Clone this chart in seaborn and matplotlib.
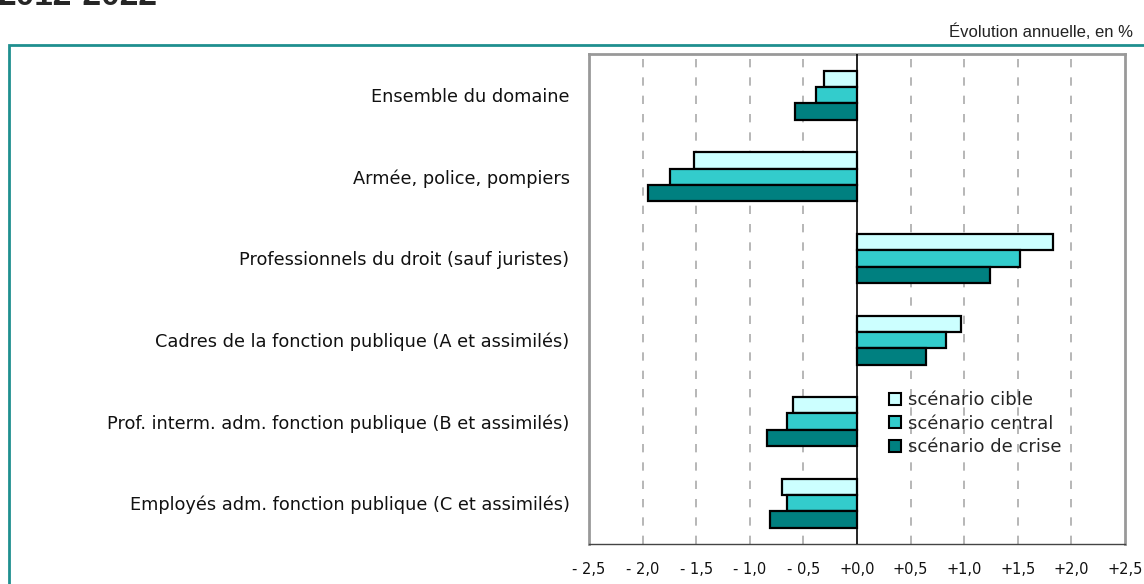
import matplotlib
matplotlib.use("Agg")
import matplotlib.pyplot as plt
import seaborn as sns
import pandas as pd
from matplotlib.patches import Rectangle

categories = ["Ensemble du domaine",
              "Armée, police, pompiers",
              "Professionnels du droit (sauf juristes)",
              "Cadres de la fonction publique (A et assimilés)",
              "Prof. interm. adm. fonction publique (B et assimilés)",
              "Employés adm. fonction publique (C et assimilés)"]
scenarios = ["scénario cible", "scénario central", "scénario de crise"]
cible = [-0.31, -1.52, 1.83, 0.97, -0.60, -0.70]
central = [-0.38, -1.74, 1.52, 0.83, -0.65, -0.65]
crise = [-0.58, -1.95, 1.24, 0.64, -0.84, -0.81]
colors = ["#CCFFFF", "#33CCCC", "#008080"]
xticks = [-2.5, -2.0, -1.5, -1.0, -0.5, 0.0, 0.5, 1.0, 1.5, 2.0, 2.5]
xticklabels = ["- 2,5", "- 2,0", "- 1,5", "- 1,0", "- 0,5", "+0,0",
               "+0,5", "+1,0", "+1,5", "+2,0", "+2,5"]

rows = []
for vals, sc in zip([cible, central, crise], scenarios):
    for cat, v in zip(categories, vals):
        rows.append({"cat": cat, "scen": sc, "val": v})
df = pd.DataFrame(rows)

sns.set_style("white")
plt.rcParams["font.family"] = ["DejaVu Sans"]

fig = plt.figure(figsize=(11.44, 5.84), dpi=100)
ax = fig.add_axes([589 / 1144, 1 - 544 / 584, 536 / 1144, (544 - 54.5) / 584])

sns.barplot(data=df, x="val", y="cat", hue="scen", order=categories,
            hue_order=scenarios, palette=colors, saturation=1, orient="h",
            width=0.6, edgecolor="black", linewidth=1.6, ax=ax, zorder=3)

ax.set_xlim(-2.5, 2.5)
ax.set_ylim(5.5, -0.5)
for x in xticks:
    if x != 0.0 and abs(x) != 2.5:
        ax.axvline(x, color="#aaaaaa", lw=1.2, ls=(0, (5, 6)), zorder=1)
ax.axvline(0, color="black", lw=1.2, zorder=4)

ax.set_xticks(xticks)
ax.set_xticklabels(xticklabels, fontsize=10.5, color="#111111")
ax.tick_params(axis="x", direction="out", length=5, width=1, color="#555555", pad=8)
ax.tick_params(axis="y", length=0, pad=14, labelsize=12.8, labelcolor="#111111")
ax.set_xlabel("")
ax.set_ylabel("")
for s in ax.spines.values():
    s.set_color("#999999")
    s.set_linewidth(2)
ax.spines["bottom"].set_color("#444444")
ax.spines["bottom"].set_linewidth(1)

leg = ax.legend(loc="upper left", bbox_to_anchor=(0.53, 0.345), frameon=False,
                fontsize=13, handlelength=0.65, handleheight=0.65,
                handletextpad=0.4, labelspacing=0.3)
for h in leg.legend_handles:
    h.set_edgecolor("black")
    h.set_linewidth(1.5)

# outer teal frame
fig.patches.append(Rectangle((9 / 1144, -0.05), 1.2, 1 - 45 / 584 + 0.05,
                             transform=fig.transFigure, fill=False,
                             edgecolor="#1F8F8F", lw=2))

fig.text(1133 / 1144, 1 - 32 / 584, "Évolution annuelle, en %", ha="right",
         va="center", fontsize=12, family="Liberation Sans", color="#222222")
fig.text(-2 / 1144, 1 - 5 / 584, "2012-2022", ha="left", va="baseline",
         fontsize=24, fontweight="bold", family="Liberation Sans")

fig.savefig("out.png", dpi=100)
